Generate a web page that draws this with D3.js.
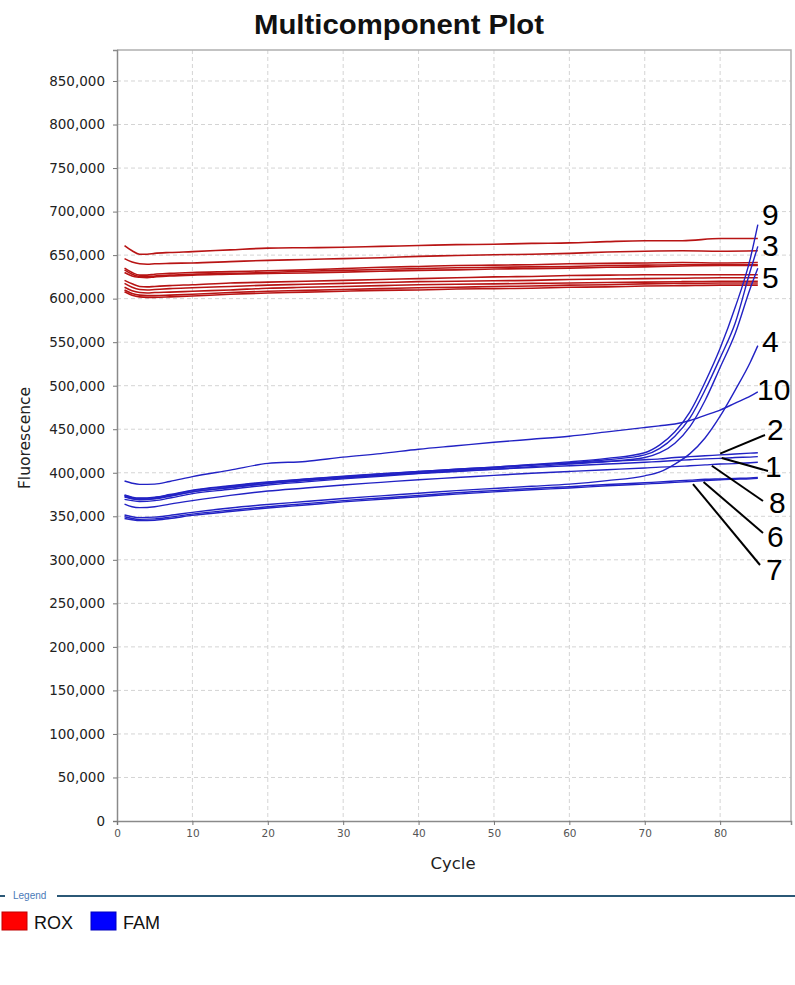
<!DOCTYPE html>
<html>
<head>
<meta charset="utf-8">
<script src="https://cdn.jsdelivr.net/npm/d3@7"></script>
<style>
	body { margin: 0; background: #fff; font-family: "Liberation Sans", Arial, sans-serif; }
	svg { display: block; }
</style>
</head>
<body>
<div id="chart"></div>
<script>
const roxCycles = [1, 2, 3, 4, 5, 7, 10, 15, 20, 25, 30, 35, 40, 45, 50, 55, 60, 65, 70, 75, 80, 85];
const famCycles = [1, 2, 3, 5, 7, 10, 15, 20, 25, 30, 35, 40, 45, 50, 55, 60, 65, 70, 72, 74, 76, 78, 80, 82, 84, 85];

// ROX (passive reference) curves, fluorescence in thousands
const rox1 = [661, 655, 651, 651, 652, 653, 654, 656, 658, 658.5, 659, 660, 661, 662, 662.5, 663.5, 664, 665.5, 666.5, 666.5, 669, 669];
const rox2 = [646, 642, 640, 639.5, 640, 640.5, 641, 642.5, 644, 645, 646, 647, 648.5, 649.5, 650.5, 651, 652, 653.5, 654.5, 655, 654.5, 655];
const rox3 = [635, 630, 627, 627, 628, 629, 630, 631, 632, 633, 634.5, 636, 637, 638, 638.5, 639, 640, 640.5, 641, 641.5, 641, 641.5];
const rox4 = [633, 628, 625.5, 625, 626, 627, 628, 629, 630, 631.5, 632.5, 633.5, 634.5, 635.5, 636, 636.5, 637, 638, 638.5, 639, 639, 639];
const rox5 = [630, 626, 624.5, 624, 625, 626, 627, 628, 629, 629.5, 630.5, 631.5, 632.5, 633, 634, 634.5, 635, 636, 636.5, 637.5, 638, 638];
const rox6 = [621, 617, 614, 613.5, 614, 615, 616, 618, 619, 620, 621, 622, 623, 624, 625, 625.5, 626.5, 627, 627.5, 627.5, 627.5, 627.5];
const rox7 = [617.5, 613, 610.5, 610, 610.5, 611.5, 612.5, 614, 615.5, 616.5, 617.5, 618.5, 619.5, 620, 620.5, 621, 622, 622.5, 623, 623.5, 624, 624];
const rox8 = [613, 609, 607, 606.5, 607, 607.5, 608.5, 610, 612, 613, 614, 615, 616, 616.5, 617, 617.5, 618, 618.5, 619, 619.5, 620, 620];
const rox9 = [610, 606, 604, 603.5, 603.5, 604, 605, 607, 608.5, 609.5, 610.5, 611.5, 612.5, 613, 614, 614.5, 615.5, 616, 617, 617.5, 618, 618];
const rox10 = [608, 604, 602, 601.5, 601.5, 602, 603, 605, 606.5, 607.5, 608.5, 609.5, 610, 611, 611.5, 612, 613, 613.5, 614.5, 615, 615.5, 615.5];

// FAM (reporter) curves per well, fluorescence in thousands
const fam1 = [373, 370.5, 369.5, 370.5, 373.5, 378, 383, 387.5, 391, 394, 397, 399.5, 402, 404, 406, 408, 410, 412, 413, 414, 415, 416, 416.5, 417.5, 418, 418.5];
const fam2 = [374.5, 372, 371, 372, 375, 380, 385, 389.5, 393, 396, 399, 401.5, 404, 406.5, 409, 411, 413, 415, 416, 417.5, 418.5, 419.5, 420.5, 421.5, 422.5, 423];
const fam3 = [372, 370, 369, 370, 373, 378, 383, 388, 391.5, 394.5, 397.5, 400.5, 403, 405.5, 408.5, 411.5, 415, 420.5, 428, 442, 463, 495, 532, 572, 632, 660];
const fam4 = [351.5, 349.5, 348.5, 349, 351, 354.5, 359.5, 363.5, 367, 370.5, 373.5, 376.5, 379.5, 382, 384.5, 387, 391, 396.5, 401, 410, 422, 440, 465, 495, 527, 546];
const fam5 = [369.5, 368, 367, 368, 371, 376, 381, 386, 389.5, 393, 396, 399, 401.5, 404, 407, 410, 413, 417.5, 423, 434, 453, 483, 521, 560, 612, 635];
const fam6 = [349.5, 347.5, 346.5, 347, 349, 352.5, 357, 361, 364.5, 368, 371, 374, 377, 379.5, 382, 384, 386.5, 388.5, 389.5, 390.5, 391.5, 392.5, 393, 393.5, 394, 394.5];
const fam7 = [347.5, 346, 345, 345.5, 347.5, 351, 355.5, 359.5, 363, 366.5, 369.5, 372.5, 375.5, 378, 380.5, 382.5, 385, 387, 388, 389, 390, 391, 392, 392.5, 393, 393.5];
const fam8 = [364, 361, 360, 361, 364, 368, 374, 379, 382.5, 386, 389, 392, 394.5, 397, 399.5, 401.5, 403.5, 405.5, 406.5, 407, 408, 409, 410, 410.5, 411.5, 412];
const fam9 = [374, 371.5, 370.5, 371.5, 374.5, 379.5, 384.5, 389, 392.5, 395.5, 398.5, 401.5, 404, 406.5, 409.5, 412.5, 416.5, 423, 432, 447, 470, 504, 543, 590, 646, 685];
const fam10 = [390.5, 388, 386.7, 387, 390, 395.5, 403, 410.8, 413, 418, 422, 427, 431, 435, 438.5, 442, 447, 452, 454, 456, 460, 466, 472, 480, 488, 493];

// Axis ticks
const cycleTicks = [0, 10, 20, 30, 40, 50, 60, 70, 80];
const fluorescenceTicks = [0, 50, 100, 150, 200, 250, 300, 350, 400, 450, 500, 550, 600, 650, 700, 750, 800, 850];

// Well labels at the right of the plot
const wellLabels = ["9", "3", "5", "4", "10", "2", "1", "8", "6", "7"];
// Labels that have a leader line to their curve: [label, cycle, value]
const leaderAnchors = [["2", 80, 422], ["1", 80.2, 417], ["8", 78.9, 408], ["6", 77.8, 389.5], ["7", 76.4, 387]];

// Legend entries
const legendNames = ["ROX", "FAM"];
const legendColors = ["#ff0000", "#0000ff"];

const roxSeries = [rox1, rox2, rox3, rox4, rox5, rox6, rox7, rox8, rox9, rox10];
const famSeries = [fam1, fam2, fam3, fam4, fam5, fam6, fam7, fam8, fam9, fam10];

const width = 795;
const height = 985;
const margin = { top: 50, right: 4, bottom: 164, left: 117 };
const tickFont = "'DejaVu Sans', 'Liberation Sans', sans-serif";

const svg = d3
	.select("#chart")
	.append("svg")
	.attr("width", width)
	.attr("height", height);

// Scales (the plot runs a bit past the last tick on both axes)
const x = d3
	.scaleLinear()
	.domain([0, 89.4])
	.range([margin.left, width - margin.right]);

const y = d3
	.scaleLinear()
	.domain([0, 885.6])
	.range([height - margin.bottom, margin.top]);

const plotLeft = x.range()[0];
const plotRight = x.range()[1];
const plotTop = y.range()[1];
const plotBottom = y.range()[0];

// Title
svg
	.append("text")
	.attr("x", 399)
	.attr("y", 34)
	.attr("text-anchor", "middle")
	.attr("textLength", 290)
	.attr("lengthAdjust", "spacingAndGlyphs")
	.style("font-size", "27px")
	.style("font-weight", "bold")
	.style("fill", "#111")
	.text("Multicomponent Plot");

// Grid lines
svg
	.append("g")
	.selectAll("line")
	.data(cycleTicks.slice(1))
	.enter()
	.append("line")
	.attr("x1", (d) => x(d))
	.attr("x2", (d) => x(d))
	.attr("y1", plotTop)
	.attr("y2", plotBottom)
	.style("stroke", "#d4d4d4")
	.style("stroke-dasharray", "4,3");

svg
	.append("g")
	.selectAll("line")
	.data(fluorescenceTicks.slice(1))
	.enter()
	.append("line")
	.attr("x1", plotLeft)
	.attr("x2", plotRight)
	.attr("y1", (d) => y(d))
	.attr("y2", (d) => y(d))
	.style("stroke", "#d4d4d4")
	.style("stroke-dasharray", "4,3");

// Frame (top and right)
svg
	.append("path")
	.attr("d", `M${plotLeft},${plotTop}H${plotRight}V${plotBottom}`)
	.style("fill", "none")
	.style("stroke", "#b0b0b0")
	.style("stroke-width", 1.5);

// Axes
const formatValue = (d) => d3.format(",")(d * 1000);

const yAxis = svg
	.append("g")
	.attr("transform", `translate(${plotLeft},0)`)
	.call(d3.axisLeft(y).tickValues(fluorescenceTicks).tickFormat(formatValue).tickSize(4).tickPadding(8));

const xAxis = svg
	.append("g")
	.attr("transform", `translate(0,${plotBottom})`)
	.call(d3.axisBottom(x).tickValues(cycleTicks).tickSize(4).tickPadding(5));

[yAxis, xAxis].forEach((axis) => {
	axis.select(".domain").style("stroke", "#8a8a8a").style("stroke-width", 1.5);
	axis.selectAll(".tick line").style("stroke", "#777");
	axis.selectAll("text").style("font-family", tickFont).style("fill", "#222");
});
yAxis.selectAll("text").style("font-size", "13.5px");
xAxis.selectAll("text").style("font-size", "10.5px").style("fill", "#555");

// Axis titles
svg
	.append("text")
	.attr("x", 453)
	.attr("y", 869)
	.attr("text-anchor", "middle")
	.style("font-family", tickFont)
	.style("font-size", "16.5px")
	.style("fill", "#222")
	.text("Cycle");

svg
	.append("text")
	.attr("transform", "translate(30,438) rotate(-90)")
	.attr("text-anchor", "middle")
	.style("font-family", tickFont)
	.style("font-size", "15.5px")
	.style("fill", "#222")
	.text("Fluorescence");

// Curves
const roxLine = d3
	.line()
	.x((d, i) => x(roxCycles[i]))
	.y((d) => y(d))
	.curve(d3.curveMonotoneX);

const famLine = d3
	.line()
	.x((d, i) => x(famCycles[i]))
	.y((d) => y(d))
	.curve(d3.curveMonotoneX);

svg
	.append("g")
	.selectAll("path")
	.data(roxSeries)
	.enter()
	.append("path")
	.attr("d", roxLine)
	.style("fill", "none")
	.style("stroke", "#b81414")
	.style("stroke-width", 1.6);

svg
	.append("g")
	.selectAll("path")
	.data(famSeries)
	.enter()
	.append("path")
	.attr("d", famLine)
	.style("fill", "none")
	.style("stroke", "#2222c4")
	.style("stroke-width", 1.4);

// Well number labels, placed to the right of the curve ends
const labelBaselines = { "9": 225, "3": 256, "5": 288, "4": 352, "10": 400, "2": 440, "1": 477, "8": 513, "6": 547, "7": 580 };
const labelLeft = { "9": 762, "3": 762, "5": 762, "4": 762, "10": 757, "2": 767, "1": 765, "8": 769, "6": 767, "7": 766 };
// Where each leader line ends near its label
const leaderEnds = { "2": [765, 435], "1": [768, 471], "8": [763, 501], "6": [763, 533], "7": [760, 565] };

svg
	.append("g")
	.selectAll("line")
	.data(leaderAnchors)
	.enter()
	.append("line")
	.attr("x1", (d) => x(d[1]))
	.attr("y1", (d) => y(d[2]))
	.attr("x2", (d) => leaderEnds[d[0]][0])
	.attr("y2", (d) => leaderEnds[d[0]][1])
	.style("stroke", "#000")
	.style("stroke-width", 2);

svg
	.append("g")
	.selectAll("text")
	.data(wellLabels)
	.enter()
	.append("text")
	.attr("x", (d) => labelLeft[d])
	.attr("y", (d) => labelBaselines[d])
	.style("font-size", "30px")
	.style("fill", "#000")
	.text((d) => d);

// Legend
const legend = svg.append("g").attr("id", "legend");

legend
	.append("line")
	.attr("x1", 0)
	.attr("x2", 5)
	.attr("y1", 896)
	.attr("y2", 896)
	.style("stroke", "#2b5876")
	.style("stroke-width", 2);

legend
	.append("line")
	.attr("x1", 57)
	.attr("x2", width)
	.attr("y1", 896)
	.attr("y2", 896)
	.style("stroke", "#2b5876")
	.style("stroke-width", 2);

legend
	.append("text")
	.attr("x", 13)
	.attr("y", 899)
	.style("font-size", "10px")
	.style("fill", "#4a7ab8")
	.text("Legend");

const legendItems = legend
	.selectAll("g")
	.data(legendNames)
	.enter()
	.append("g")
	.attr("transform", (d, i) => `translate(${2 + i * 89}, 912)`);

legendItems
	.append("rect")
	.attr("width", 25)
	.attr("height", 18)
	.style("fill", (d, i) => legendColors[i])
	.style("stroke", (d, i) => d3.color(legendColors[i]).darker(0.8))
	.style("stroke-width", 1);

legendItems
	.append("text")
	.attr("x", 32)
	.attr("y", 17)
	.style("font-size", "18px")
	.style("fill", "#111")
	.text((d) => d);
</script>
</body>
</html>
